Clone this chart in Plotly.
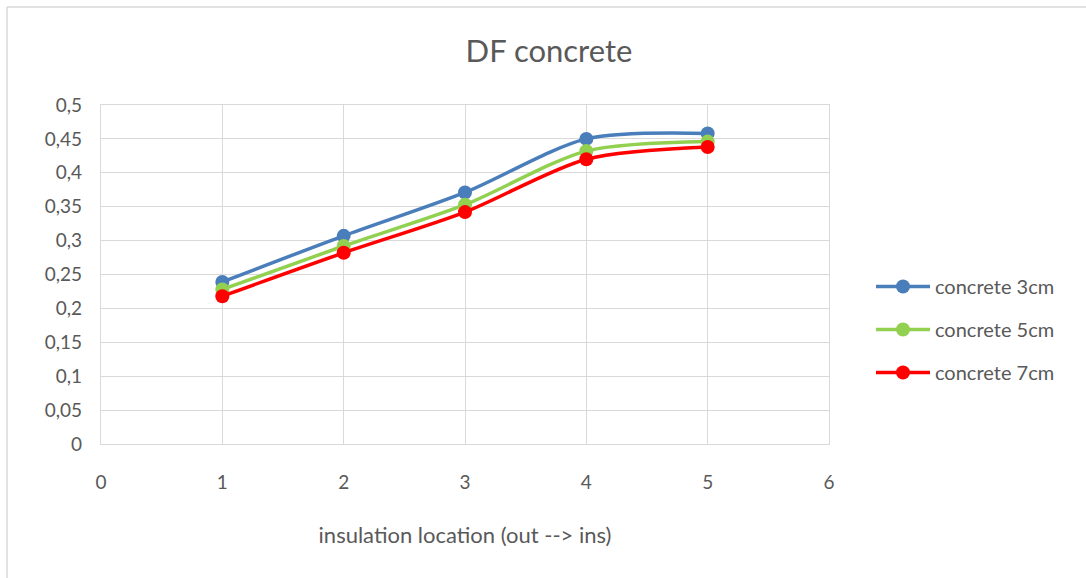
import plotly.graph_objects as go

# insulation position (1 = outside ... 5 = inside)
location = [1, 2, 3, 4, 5]
df_3cm = [0.239, 0.307, 0.371, 0.450, 0.458]
df_5cm = [0.228, 0.292, 0.353, 0.432, 0.446]
df_7cm = [0.218, 0.282, 0.342, 0.420, 0.438]

series_names = ["concrete 3cm", "concrete 5cm", "concrete 7cm"]
series_colors = ["#4a7ebb", "#92d050", "#ff0000"]

y_ticks = [round(i * 0.05, 2) for i in range(11)]
y_tick_text = [("%g" % v).replace(".", ",") for v in y_ticks]

FONT = "Lato, Open Sans, sans-serif"
TXT = "#595959"
GRID = "#d9d9d9"

fig = go.Figure()
for i, (name, vals, col) in enumerate(zip(series_names, [df_3cm, df_5cm, df_7cm], series_colors)):
    fig.add_trace(go.Scatter(
        x=location, y=vals, name=name, legendgroup=name,
        mode="lines+markers",
        line=dict(color=col, width=3.5, shape="spline", smoothing=0.8),
        marker=dict(color=col, size=14),
    ))

W, H = 1086, 578
L, R, T, B = 101, 829, 105, 444

def px_x(p):
    return (p - L) / (R - L)

def px_y(p):
    return (B - p) / (B - T)

fig.update_layout(
    width=W, height=H,
    margin=dict(l=L, r=W - R, t=T, b=H - B),
    paper_bgcolor="white", plot_bgcolor="white",
    font=dict(family=FONT, color=TXT, size=19),
    title=dict(text="DF concrete", x=px_x(549), xref="paper", xanchor="center",
               y=1 - 51 / H, yanchor="middle", font=dict(size=31, color=TXT)),
    legend=dict(x=px_x(871), xanchor="left", y=px_y(267), yanchor="top",
                font=dict(size=20, color=TXT), itemwidth=54,
                tracegroupgap=14, bgcolor="rgba(0,0,0,0)"),
    showlegend=True,
    xaxis=dict(range=[0, 6], dtick=1, tick0=0, showgrid=True, gridcolor=GRID, gridwidth=1.3,
               zeroline=False, showline=True, linecolor=GRID, linewidth=1.3, mirror=True,
               ticks="", ticklabelstandoff=21, tickfont=dict(size=19, color=TXT),
               title=dict(text="insulation location (out --> ins)", standoff=35,
                          font=dict(size=22, color=TXT))),
    yaxis=dict(range=[0, 0.5], tickvals=y_ticks, ticktext=y_tick_text, showgrid=True,
               gridcolor=GRID, gridwidth=1.3, zeroline=False, showline=True, linecolor=GRID,
               linewidth=1.3, mirror=True, ticks="", ticklabelstandoff=14,
               tickfont=dict(size=19, color=TXT)),
)

# chart frame: left and top edges
fig.add_shape(type="line", xref="paper", yref="paper",
              x0=px_x(7), x1=px_x(7), y0=px_y(7), y1=px_y(H + 5),
              line=dict(color=GRID, width=1.5), layer="below")
fig.add_shape(type="line", xref="paper", yref="paper",
              x0=px_x(7), x1=px_x(W + 5), y0=px_y(7), y1=px_y(7),
              line=dict(color=GRID, width=1.5), layer="below")

fig.write_html("out.html")
